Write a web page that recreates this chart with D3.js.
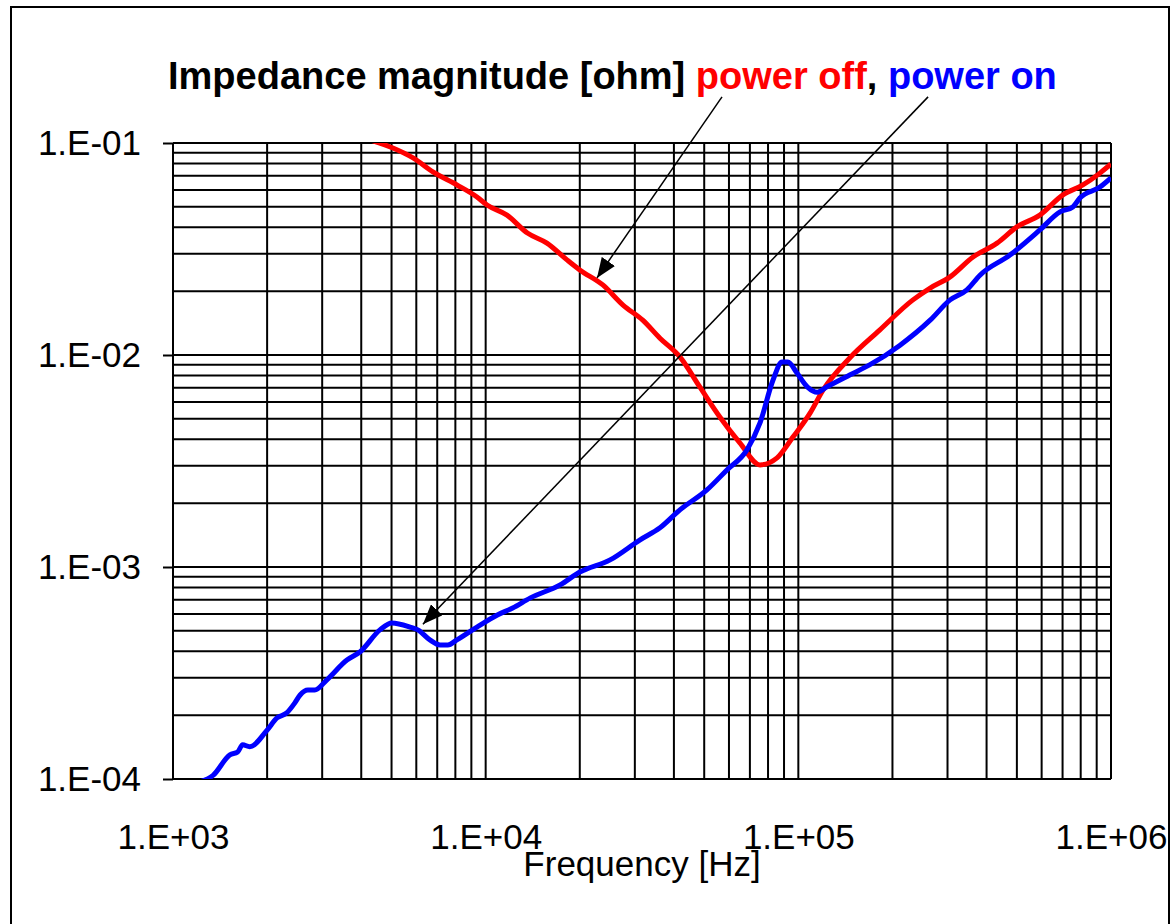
<!DOCTYPE html>
<html>
<head>
<meta charset="utf-8">
<script src="https://cdn.jsdelivr.net/npm/d3@7"></script>
<style>
  body { margin: 0; background: #fff; }
  text { font-family: "Liberation Sans", Arial, sans-serif; }
</style>
</head>
<body>
<div id="chart"></div>
<script>
// impedance curves: frequency [Hz] / magnitude [ohm]
const offFreq = [4.3e3, 5.05e3, 5.86e3, 6.78e3, 8.09e3, 9.38e3, 10.1e3, 11.7e3, 13.6e3, 15.7e3,
                 18.2e3, 20e3, 23.7e3, 27.5e3, 31.8e3, 36.1e3, 41.8e3, 48.4e3, 56.1e3, 65e3,
                 75.4e3, 85.5e3, 96.1e3, 109e3, 120e3, 146e3, 182e3, 232e3, 264e3, 305e3,
                 362e3, 432e3, 500e3, 592e3, 702e3, 813e3, 922e3, 1e6];
const offZ = [0.103, 0.0947, 0.085, 0.073, 0.0634, 0.0556, 0.051, 0.0457, 0.0376, 0.0337,
              0.0281, 0.0252, 0.0214, 0.0172, 0.0146, 0.012, 0.0098, 0.00707, 0.0051, 0.00385,
              0.00303, 0.00327, 0.0041, 0.00532, 0.00684, 0.00968, 0.0131, 0.01815, 0.0207, 0.0233,
              0.029, 0.0337, 0.0402, 0.0457, 0.0569, 0.0634, 0.0721, 0.0796];

const onFreq = [1.22e3, 1.343e3, 1.52e3, 1.61e3, 1.67e3, 1.76e3, 2.0e3, 2.15e3, 2.31e3, 2.45e3,
                2.55e3, 2.7e3, 2.84e3, 3.1e3, 3.6e3, 3.96e3, 4.59e3, 5.01e3, 5.73e3, 6.07e3,
                6.63e3, 7.14e3, 7.57e3, 8.09e3, 9.38e3, 10.9e3, 12.2e3, 13.9e3, 17.3e3, 20e3,
                25e3, 31.1e3, 36.1e3, 41.8e3, 51e3, 59.1e3, 68.5e3, 75.4e3, 83e3, 88.7e3,
                92.6e3, 99e3, 107e3, 115e3, 123e3, 146e3, 169e3, 211e3, 264e3, 305e3,
                346e3, 381e3, 475e3, 592e3, 687e3, 755e3, 795e3, 922e3, 1e6];
const onZ = [0.97e-4, 1.04e-4, 1.30e-4, 1.34e-4, 1.45e-4, 1.42e-4, 1.70e-4, 1.94e-4, 2.05e-4, 2.28e-4,
             2.49e-4, 2.63e-4, 2.63e-4, 2.93e-4, 3.64e-4, 3.97e-4, 5.05e-4, 5.45e-4, 5.21e-4, 5.05e-4,
             4.53e-4, 4.29e-4, 4.29e-4, 4.53e-4, 5.21e-4, 5.94e-4, 6.41e-4, 7.15e-4, 8.23e-4, 9.47e-4,
             1.08e-3, 1.34e-3, 1.53e-3, 1.86e-3, 2.31e-3, 2.87e-3, 3.57e-3, 4.78e-3, 7.62e-3, 9.27e-3,
             9.27e-3, 8.22e-3, 7.06e-3, 6.68e-3, 7.06e-3, 8.05e-3, 8.98e-3, 0.0111, 0.0146, 0.01815,
             0.0203, 0.0238, 0.0296, 0.0389, 0.0473, 0.0499, 0.055, 0.062, 0.0685];

const xTicks = [1e3, 1e4, 1e5, 1e6];
const xTickLabels = ["1.E+03", "1.E+04", "1.E+05", "1.E+06"];
const yTicks = [1e-1, 1e-2, 1e-3, 1e-4];
const yTickLabels = ["1.E-01", "1.E-02", "1.E-03", "1.E-04"];

// arrows from the title words to the curves: [fromFreq, fromZ, toFreq, toZ]
const arrowOff = [57e3, 0.165, 22.7e3, 0.0231];
const arrowOn = [260e3, 0.165, 6.3e3, 5.37e-4];

const margin = {top: 143, right: 64, bottom: 145, left: 173},
      width = 1175 - margin.left - margin.right,
      height = 924 - margin.top - margin.bottom;

const x = d3.scaleLog().domain([1e3, 1e6]).range([0, width]);
const y = d3.scaleLog().domain([1e-4, 1e-1]).range([height, 0]);

const root = d3.select("#chart").append("svg")
               .attr("width", 1175)
               .attr("height", 924);

// outer frame
root.append("rect")
    .attr("x", 11).attr("y", 7)
    .attr("width", 1158).attr("height", 940)
    .attr("fill", "none").attr("stroke", "#000").attr("stroke-width", 2);

const svg = root.append("g")
                .attr("transform", "translate(" + margin.left + "," + margin.top + ")");

const defs = svg.append("defs");
defs.append("clipPath").attr("id", "plotclip")
    .append("rect").attr("width", width).attr("height", height);

// minor + major grid lines, every 1..9 within each decade
const gridX = [], gridY = [];
for (let e = 3; e < 6; e++) for (let k = 1; k < 10; k++) gridX.push(k * Math.pow(10, e));
gridX.push(1e6);
for (let e = -4; e < -1; e++) for (let k = 1; k < 10; k++) gridY.push(k * Math.pow(10, e));
gridY.push(1e-1);

svg.append("g").selectAll("line").data(gridX).enter().append("line")
   .attr("x1", d => x(d)).attr("x2", d => x(d))
   .attr("y1", 0).attr("y2", height)
   .attr("stroke", "#000").attr("stroke-width", 2);

svg.append("g").selectAll("line").data(gridY).enter().append("line")
   .attr("x1", 0).attr("x2", width)
   .attr("y1", d => y(d)).attr("y2", d => y(d))
   .attr("stroke", "#000").attr("stroke-width", 2);

// Y axis: short outer ticks at the decades
const yAxis = svg.append("g")
   .call(d3.axisLeft(y).tickValues(yTicks).tickSize(10).tickPadding(22)
           .tickFormat((d, i) => yTickLabels[i]));
yAxis.select(".domain").remove();
yAxis.selectAll("line").attr("stroke", "#000").attr("stroke-width", 2);
yAxis.selectAll("text")
     .attr("font-size", 35).attr("fill", "#000")
     .attr("font-family", "'Liberation Sans', Arial, sans-serif");

// X axis labels only
const xAxis = svg.append("g")
   .attr("transform", "translate(0," + height + ")")
   .call(d3.axisBottom(x).tickValues(xTicks).tickSize(0).tickPadding(45)
           .tickFormat((d, i) => xTickLabels[i]));
xAxis.select(".domain").remove();
xAxis.selectAll("text")
     .attr("font-size", 35).attr("fill", "#000")
     .attr("font-family", "'Liberation Sans', Arial, sans-serif");

// curves
const line = d3.line()
               .x(d => x(d[0]))
               .y(d => y(d[1]))
               .curve(d3.curveMonotoneX);

const curves = svg.append("g").attr("clip-path", "url(#plotclip)");
curves.append("path")
      .datum(offFreq.map((f, i) => [f, offZ[i]]))
      .attr("d", line)
      .attr("fill", "none").attr("stroke", "#ff0000")
      .attr("stroke-width", 5).attr("stroke-linejoin", "round");
curves.append("path")
      .datum(onFreq.map((f, i) => [f, onZ[i]]))
      .attr("d", line)
      .attr("fill", "none").attr("stroke", "#0000ff")
      .attr("stroke-width", 5).attr("stroke-linejoin", "round");

// arrows
defs.append("marker")
    .attr("id", "head")
    .attr("viewBox", "0 0 20 16")
    .attr("refX", 20).attr("refY", 8)
    .attr("markerWidth", 20).attr("markerHeight", 16)
    .attr("markerUnits", "userSpaceOnUse")
    .attr("orient", "auto")
    .append("path").attr("d", "M0,0L20,8L0,16z").attr("fill", "#000");

[arrowOff, arrowOn].forEach(a => {
  svg.append("line")
     .attr("x1", x(a[0])).attr("y1", y(a[1]))
     .attr("x2", x(a[2])).attr("y2", y(a[3]))
     .attr("stroke", "#000").attr("stroke-width", 1.5)
     .attr("marker-end", "url(#head)");
});

// title
const title = root.append("text")
   .attr("x", 168).attr("y", 89)
   .attr("font-size", 38).attr("font-weight", "bold");
title.append("tspan").attr("fill", "#000").text("Impedance magnitude [ohm] ");
title.append("tspan").attr("fill", "#ff0000").text("power off");
title.append("tspan").attr("fill", "#000").text(", ");
title.append("tspan").attr("fill", "#0000ff").text("power on");

// x axis title
svg.append("text")
   .attr("text-anchor", "middle")
   .attr("x", width / 2).attr("y", height + 97)
   .attr("font-size", 35)
   .text("Frequency [Hz]");
</script>
</body>
</html>
